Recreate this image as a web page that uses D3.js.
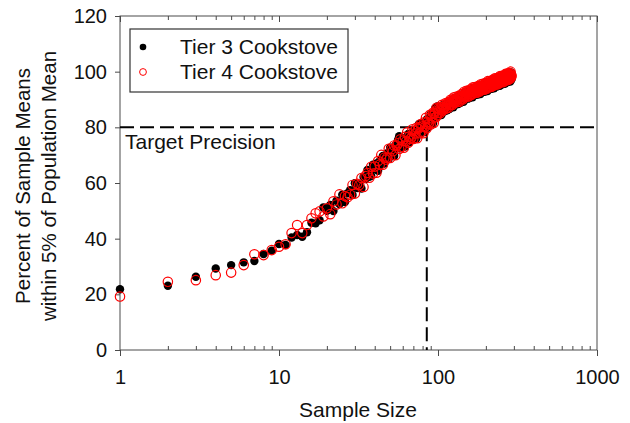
<!DOCTYPE html>
<html>
<head>
<meta charset="utf-8">
<script src="https://cdn.jsdelivr.net/npm/d3@7"></script>
<style>
  body { margin: 0; background: #fff; }
  text { font-family: "Liberation Sans", Arial, sans-serif; fill: #111; }
</style>
</head>
<body>
<svg id="chart" width="630" height="423"></svg>
<script>
// DATA (percent of sample means within 5% of population mean, one value per sample size n = 1, 2, 3 ...)
const tier3 = [
  21.8, 23.1, 26.3, 29.3, 30.5, 31.5, 32.0, 34.5, 35.7, 38.1,
  37.7, 40.4, 41.3, 40.7, 42.3, 45.7, 45.5, 46.6, 51.2, 50.0,
  52.1, 49.9, 53.6, 52.4, 55.8, 53.2, 56.3, 57.4, 55.7, 59.9,
  58.2, 59.7, 58.0, 62.2, 61.4, 64.7, 62.2, 62.6, 66.6, 65.0,
  67.0, 64.4, 67.9, 66.6, 69.7, 67.0, 69.8, 70.7, 68.7, 72.7,
  70.6, 71.8, 69.7, 73.6, 72.4, 75.4, 76.8, 72.5, 76.2, 74.3,
  76.0, 73.1, 76.3, 74.7, 77.6, 74.6, 77.2, 77.9, 75.7, 78.4,
  77.2, 78.2, 76.0, 79.7, 78.4, 81.2, 78.2, 78.0, 81.6, 79.5,
  81.2, 78.3, 81.5, 79.9, 82.8, 79.8, 82.4, 83.1, 80.9, 84.7,
  82.5, 83.6, 81.4, 85.2, 83.9, 86.8, 83.9, 83.8, 87.5, 85.8,
  84.3, 86.9, 85.3, 86.0, 84.4, 87.0, 86.0, 88.0, 85.9, 85.8,
  87.3, 86.9, 88.4, 86.1, 88.2, 87.2, 88.7, 86.6, 88.4, 88.9,
  87.3, 89.8, 88.2, 88.8, 87.2, 89.7, 88.7, 90.6, 88.5, 88.3,
  89.8, 89.3, 90.8, 88.4, 90.5, 89.4, 90.9, 88.7, 90.5, 90.9,
  89.3, 91.8, 90.2, 90.8, 89.2, 91.7, 90.7, 92.6, 90.5, 90.3,
  91.8, 91.3, 92.7, 90.3, 92.4, 91.3, 92.7, 90.5, 92.3, 92.7,
  91.0, 93.5, 91.9, 92.4, 90.8, 93.3, 92.2, 94.1, 92.0, 91.7,
  93.2, 92.6, 94.1, 91.7, 93.7, 92.6, 94.0, 91.8, 93.5, 93.9,
  92.3, 94.7, 93.1, 93.6, 92.0, 94.4, 93.4, 95.2, 93.1, 92.9,
  94.3, 93.8, 95.2, 92.8, 94.8, 93.7, 95.1, 92.9, 94.6, 95.0,
  93.3, 95.8, 94.1, 94.7, 93.0, 95.5, 94.4, 96.3, 94.1, 93.9,
  95.3, 94.8, 96.2, 93.8, 95.8, 94.7, 96.1, 93.9, 95.6, 96.0,
  94.3, 96.7, 95.1, 95.6, 94.0, 96.4, 95.4, 97.2, 95.1, 94.8,
  96.3, 95.7, 97.1, 94.7, 96.7, 95.6, 97.0, 94.8, 96.5, 96.9,
  95.2, 97.6, 96.0, 96.5, 94.9, 97.3, 96.3, 98.1, 95.9, 95.7,
  97.1, 96.6, 98.0, 95.5, 97.6, 96.4, 97.9, 95.6, 97.4, 97.7,
  96.0, 98.5, 96.8, 97.4, 95.7, 98.1, 97.1, 98.9, 96.8, 96.5,
  97.9, 97.4, 98.8, 96.4, 98.4, 97.2, 98.7, 96.4, 98.1, 98.5,
  96.8, 99.3, 97.6, 98.1, 96.5, 98.9, 97.8, 99.7, 97.5, 97.3
];

const tier4 = [
  19.2, 24.5, 25.1, 26.9, 27.8, 30.5, 34.4, 34.1, 35.9, 37.1,
  38.0, 42.0, 44.9, 42.0, 44.9, 47.3, 49.1, 49.8, 48.0, 50.9,
  48.8, 53.4, 52.3, 55.9, 52.7, 55.3, 54.9, 55.8, 59.3, 56.2,
  59.7, 59.3, 61.8, 58.6, 62.5, 63.6, 61.9, 65.8, 63.4, 65.9,
  63.7, 67.9, 66.6, 70.1, 66.6, 69.1, 68.4, 69.1, 72.3, 69.0,
  72.1, 71.4, 73.5, 70.0, 73.5, 74.3, 72.2, 75.7, 73.0, 75.2,
  72.7, 76.6, 75.0, 78.2, 74.5, 76.7, 75.8, 76.3, 79.3, 75.8,
  78.7, 77.8, 79.8, 76.1, 79.5, 80.1, 77.9, 81.2, 78.4, 80.4,
  77.9, 81.8, 80.2, 83.4, 79.7, 81.9, 81.0, 81.5, 84.5, 81.0,
  84.0, 83.2, 85.2, 81.6, 85.0, 85.7, 83.6, 87.0, 84.3, 86.8,
  85.3, 86.5, 85.1, 87.3, 86.3, 88.1, 86.0, 87.3, 86.7, 87.0,
  88.6, 86.7, 88.3, 87.9, 88.9, 87.0, 88.8, 89.2, 88.0, 89.9,
  88.3, 89.4, 88.0, 90.1, 89.1, 90.8, 88.7, 89.9, 89.3, 89.5,
  91.1, 89.1, 90.7, 90.2, 91.2, 89.2, 91.0, 91.3, 90.1, 91.9,
  90.3, 91.4, 90.0, 92.1, 91.1, 92.8, 90.7, 91.9, 91.3, 91.5,
  93.1, 91.1, 92.6, 92.1, 93.1, 91.1, 92.8, 93.1, 91.9, 93.7,
  92.0, 93.1, 91.7, 93.7, 92.7, 94.4, 92.2, 93.4, 92.8, 92.9,
  94.5, 92.4, 94.0, 93.5, 94.4, 92.4, 94.1, 94.4, 93.1, 94.9,
  93.3, 94.3, 92.9, 94.9, 93.9, 95.5, 93.4, 94.5, 93.9, 94.1,
  95.6, 93.6, 95.1, 94.6, 95.5, 93.5, 95.2, 95.5, 94.2, 96.0,
  94.3, 95.4, 93.9, 96.0, 94.9, 96.6, 94.4, 95.6, 94.9, 95.1,
  96.6, 94.6, 96.1, 95.6, 96.5, 94.5, 96.2, 96.5, 95.2, 97.0,
  95.3, 96.3, 94.9, 96.9, 95.9, 97.5, 95.4, 96.5, 95.9, 96.0,
  97.6, 95.5, 97.0, 96.5, 97.4, 95.4, 97.1, 97.4, 96.1, 97.9,
  96.2, 97.2, 95.8, 97.8, 96.8, 98.4, 96.3, 97.4, 96.7, 96.9,
  98.4, 96.4, 97.9, 97.3, 98.3, 96.2, 98.0, 98.2, 97.0, 98.7,
  97.0, 98.1, 96.6, 98.7, 97.6, 99.2, 97.1, 98.2, 97.6, 97.7,
  99.2, 97.2, 98.7, 98.2, 99.1, 97.0, 98.8, 99.0, 97.7, 99.5,
  97.8, 98.9, 97.4, 99.4, 98.4, 100.0, 97.8, 99.0, 98.3, 98.5
];

const seriesNames = ["Tier 3 Cookstove", "Tier 4 Cookstove"];
const xTickValues = [1, 10, 100, 1000];
const yTickValues = [0, 20, 40, 60, 80, 100, 120];
const targetPrecision = 80;
const targetSampleSize = 85;

// SIZES
const plotLeft = 120, plotRight = 597, plotTop = 16, plotBottom = 350;
const axisColor = "#4a4a4a";

const svg = d3.select("#chart");

const x = d3.scaleLog().domain([1, 1000]).range([plotLeft, plotRight]);
const y = d3.scaleLinear().domain([0, 120]).range([plotBottom, plotTop]);

// MINOR TICKS (2..9 in each decade)
const minorTicks = x.ticks().filter((d) => xTickValues.indexOf(d) < 0);

// FRAME
svg.append("rect")
  .attr("x", plotLeft)
  .attr("y", plotTop)
  .attr("width", plotRight - plotLeft)
  .attr("height", plotBottom - plotTop)
  .attr("fill", "none")
  .attr("stroke", axisColor)
  .attr("stroke-width", 1);

// X AXIS (bottom) - major ticks outside with labels
const xAxis = svg.append("g")
  .attr("transform", "translate(0," + plotBottom + ")")
  .call(d3.axisBottom(x).tickValues(xTickValues).tickSize(6).tickPadding(14)
    .tickFormat(d3.format("d")));
xAxis.select(".domain").remove();

// minor ticks inside, bottom and top
svg.append("g")
  .attr("transform", "translate(0," + plotBottom + ")")
  .call(d3.axisBottom(x).tickValues(minorTicks).tickSize(-4).tickFormat(""))
  .select(".domain").remove();

svg.append("g")
  .attr("transform", "translate(0," + plotTop + ")")
  .call(d3.axisTop(x).tickValues(minorTicks).tickSize(-4).tickFormat(""))
  .select(".domain").remove();

svg.append("g")
  .attr("transform", "translate(0," + plotTop + ")")
  .call(d3.axisTop(x).tickValues(xTickValues).tickSize(-6).tickFormat(""))
  .select(".domain").remove();

// Y AXIS
const yAxis = svg.append("g")
  .attr("transform", "translate(" + plotLeft + ",0)")
  .call(d3.axisLeft(y).tickValues(yTickValues).tickSize(5).tickPadding(8));
yAxis.select(".domain").remove();

svg.selectAll(".tick line").attr("stroke", axisColor);
svg.selectAll(".tick text")
  .attr("font-size", 20)
  .attr("font-family", "'Liberation Sans', Arial, sans-serif")
  .attr("fill", "#111");

// AXIS TITLES
svg.append("text")
  .attr("x", 358)
  .attr("y", 417)
  .attr("text-anchor", "middle")
  .attr("font-size", 21)
  .text("Sample Size");

const yTitle = svg.append("text")
  .attr("transform", "translate(0,186) rotate(-90)")
  .attr("text-anchor", "middle")
  .attr("font-size", 20.5);
yTitle.append("tspan").attr("x", 0).attr("y", 30).text("Percent of Sample Means");
yTitle.append("tspan").attr("x", 0).attr("y", 56).text("within 5% of Population Mean");

// TARGET LINES
svg.append("line")
  .attr("x1", x(1))
  .attr("x2", plotRight - 3)
  .attr("y1", y(targetPrecision))
  .attr("y2", y(targetPrecision))
  .attr("stroke", "#000")
  .attr("stroke-width", 2)
  .attr("stroke-dasharray", "14,6");

svg.append("line")
  .attr("x1", x(targetSampleSize))
  .attr("x2", x(targetSampleSize))
  .attr("y1", y(targetPrecision))
  .attr("y2", y(0))
  .attr("stroke", "#000")
  .attr("stroke-width", 2)
  .attr("stroke-dasharray", "14,6");

svg.append("text")
  .attr("x", plotLeft + 5)
  .attr("y", y(targetPrecision) + 22)
  .attr("font-size", 21)
  .text("Target Precision");

// POINTS (tier 3 filled black, tier 4 open red on top)
svg.append("g")
  .selectAll("circle")
  .data(tier3)
  .enter()
  .append("circle")
  .attr("cx", (d, i) => x(i + 1))
  .attr("cy", (d) => y(d))
  .attr("r", 4.2)
  .attr("fill", "#000");

svg.append("g")
  .selectAll("circle")
  .data(tier4)
  .enter()
  .append("circle")
  .attr("cx", (d, i) => x(i + 1))
  .attr("cy", (d) => y(d))
  .attr("r", 4.7)
  .attr("fill", "none")
  .attr("stroke", "#ff0000")
  .attr("stroke-width", 1.2);

// LEGEND
const legend = svg.append("g");
legend.append("rect")
  .attr("x", 130)
  .attr("y", 29)
  .attr("width", 218)
  .attr("height", 63)
  .attr("fill", "#fff")
  .attr("stroke", "#333")
  .attr("stroke-width", 1.2);

legend.append("circle").attr("cx", 143).attr("cy", 47).attr("r", 3.3).attr("fill", "#000");
legend.append("circle").attr("cx", 143).attr("cy", 72).attr("r", 3.4)
  .attr("fill", "none").attr("stroke", "#ff0000").attr("stroke-width", 1);

legend.selectAll("text.leg")
  .data(seriesNames)
  .enter()
  .append("text")
  .attr("class", "leg")
  .attr("x", 180)
  .attr("y", (d, i) => 54 + i * 25)
  .attr("font-size", 21)
  .text((d) => d);
</script>
</body>
</html>
